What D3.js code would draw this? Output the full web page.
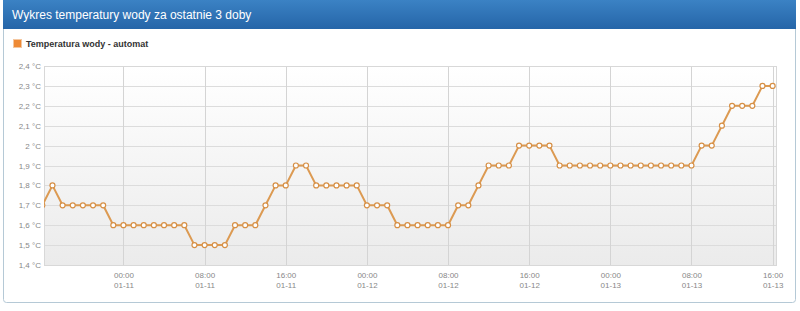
<!DOCTYPE html>
<html>
<head>
<meta charset="utf-8">
<script src="https://cdn.jsdelivr.net/npm/d3@7"></script>
<style>
  body { margin: 0; background: #fff; font-family: Arial, "Liberation Sans", sans-serif; }
</style>
</head>
<body>
<div id="wrapper"></div>
<script>
const title = "Wykres temperatury wody za ostatnie 3 doby";
const seriesName = "Temperatura wody - automat";

// hourly readings, "YYYY-MM-DD HH:MM"
const times = [
  "2019-01-10 16:00", "2019-01-10 17:00", "2019-01-10 18:00", "2019-01-10 19:00",
  "2019-01-10 20:00", "2019-01-10 21:00", "2019-01-10 22:00", "2019-01-10 23:00",
  "2019-01-11 00:00", "2019-01-11 01:00", "2019-01-11 02:00", "2019-01-11 03:00",
  "2019-01-11 04:00", "2019-01-11 05:00", "2019-01-11 06:00", "2019-01-11 07:00",
  "2019-01-11 08:00", "2019-01-11 09:00", "2019-01-11 10:00", "2019-01-11 11:00",
  "2019-01-11 12:00", "2019-01-11 13:00", "2019-01-11 14:00", "2019-01-11 15:00",
  "2019-01-11 16:00", "2019-01-11 17:00", "2019-01-11 18:00", "2019-01-11 19:00",
  "2019-01-11 20:00", "2019-01-11 21:00", "2019-01-11 22:00", "2019-01-11 23:00",
  "2019-01-12 00:00", "2019-01-12 01:00", "2019-01-12 02:00", "2019-01-12 03:00",
  "2019-01-12 04:00", "2019-01-12 05:00", "2019-01-12 06:00", "2019-01-12 07:00",
  "2019-01-12 08:00", "2019-01-12 09:00", "2019-01-12 10:00", "2019-01-12 11:00",
  "2019-01-12 12:00", "2019-01-12 13:00", "2019-01-12 14:00", "2019-01-12 15:00",
  "2019-01-12 16:00", "2019-01-12 17:00", "2019-01-12 18:00", "2019-01-12 19:00",
  "2019-01-12 20:00", "2019-01-12 21:00", "2019-01-12 22:00", "2019-01-12 23:00",
  "2019-01-13 00:00", "2019-01-13 01:00", "2019-01-13 02:00", "2019-01-13 03:00",
  "2019-01-13 04:00", "2019-01-13 05:00", "2019-01-13 06:00", "2019-01-13 07:00",
  "2019-01-13 08:00", "2019-01-13 09:00", "2019-01-13 10:00", "2019-01-13 11:00",
  "2019-01-13 12:00", "2019-01-13 13:00", "2019-01-13 14:00", "2019-01-13 15:00",
  "2019-01-13 16:00"
];

const temps = [
  1.7, 1.8, 1.7, 1.7, 1.7, 1.7, 1.7, 1.6,
  1.6, 1.6, 1.6, 1.6, 1.6, 1.6, 1.6, 1.5,
  1.5, 1.5, 1.5, 1.6, 1.6, 1.6, 1.7, 1.8,
  1.8, 1.9, 1.9, 1.8, 1.8, 1.8, 1.8, 1.8,
  1.7, 1.7, 1.7, 1.6, 1.6, 1.6, 1.6, 1.6,
  1.6, 1.7, 1.7, 1.8, 1.9, 1.9, 1.9, 2.0,
  2.0, 2.0, 2.0, 1.9, 1.9, 1.9, 1.9, 1.9,
  1.9, 1.9, 1.9, 1.9, 1.9, 1.9, 1.9, 1.9,
  1.9, 2.0, 2.0, 2.1, 2.2, 2.2, 2.2, 2.3,
  2.3
];

const yTicks = [1.4, 1.5, 1.6, 1.7, 1.8, 1.9, 2.0, 2.1, 2.2, 2.3, 2.4];
const xTickTimes = [
  "2019-01-11 00:00", "2019-01-11 08:00", "2019-01-11 16:00",
  "2019-01-12 00:00", "2019-01-12 08:00", "2019-01-12 16:00",
  "2019-01-13 00:00", "2019-01-13 08:00", "2019-01-13 16:00"
];
const xDomain = ["2019-01-10 16:10", "2019-01-13 16:20"];

const parse = d3.timeParse("%Y-%m-%d %H:%M");
const data = times.map((t, i) => ({ date: parse(t), value: temps[i] }));

const width = 800, height = 311;
const plot = { left: 44, right: 776, top: 66, bottom: 265 };

const svg = d3.select("#wrapper").append("svg")
  .attr("width", width).attr("height", height);

const defs = svg.append("defs");
const headGrad = defs.append("linearGradient").attr("id", "head")
  .attr("x1", 0).attr("y1", 0).attr("x2", 0).attr("y2", 1);
headGrad.append("stop").attr("offset", "0%").attr("stop-color", "#3b82c4");
headGrad.append("stop").attr("offset", "100%").attr("stop-color", "#2565a8");

const bgGrad = defs.append("linearGradient").attr("id", "plotbg")
  .attr("x1", 0).attr("y1", 0).attr("x2", 0).attr("y2", 1);
bgGrad.append("stop").attr("offset", "0%").attr("stop-color", "#ffffff");
bgGrad.append("stop").attr("offset", "100%").attr("stop-color", "#ebebeb");

defs.append("clipPath").attr("id", "clip").append("rect")
  .attr("x", plot.left).attr("y", plot.top - 5)
  .attr("width", plot.right - plot.left + 5).attr("height", plot.bottom - plot.top + 10);

// panel
svg.append("rect")
  .attr("x", 3.5).attr("y", 0.5).attr("width", 792).attr("height", 302)
  .attr("rx", 3).attr("fill", "#fff").attr("stroke", "#b5c9d6");
svg.append("rect")
  .attr("x", 3).attr("y", 0).attr("width", 793).attr("height", 29)
  .attr("fill", "url(#head)");
svg.append("text")
  .attr("x", 12).attr("y", 19)
  .attr("fill", "#fff").attr("font-size", 12)
  .text(title);

// legend
svg.append("rect")
  .attr("x", 13.5).attr("y", 39.5).attr("width", 8).attr("height", 8)
  .attr("fill", "#ee8a35").attr("stroke", "#f4c7a0");
svg.append("text")
  .attr("x", 26).attr("y", 47)
  .attr("font-size", 9).attr("font-weight", "bold").attr("fill", "#333")
  .text(seriesName);

// scales
const x = d3.scaleTime()
  .domain(xDomain.map(parse))
  .range([plot.left, plot.right]);
const y = d3.scaleLinear()
  .domain([1.4, 2.4])
  .range([plot.bottom, plot.top]);

svg.append("rect")
  .attr("x", plot.left).attr("y", plot.top)
  .attr("width", plot.right - plot.left).attr("height", plot.bottom - plot.top)
  .attr("fill", "url(#plotbg)");

// grid
const fmtY = d => String(+d.toFixed(1)).replace(".", ",") + " \u00B0C";
svg.append("g")
  .attr("transform", `translate(${plot.left},0)`)
  .call(d3.axisLeft(y).tickValues(yTicks).tickSize(-(plot.right - plot.left)).tickFormat(fmtY))
  .call(g => g.select(".domain").remove())
  .call(g => g.selectAll("line").attr("stroke", "#dcdcdc").attr("shape-rendering", "crispEdges"))
  .call(g => g.selectAll("text").attr("x", -3).attr("fill", "#888")
    .attr("font-size", 8).attr("font-family", "Arial, sans-serif"));

const fmtTime = d3.timeFormat("%H:%M");
const fmtDay = d3.timeFormat("%m-%d");
const xAxis = svg.append("g")
  .attr("transform", `translate(0,${plot.bottom})`)
  .call(d3.axisBottom(x).tickValues(xTickTimes.map(parse)).tickSize(-(plot.bottom - plot.top)).tickFormat(""))
  .call(g => g.select(".domain").remove())
  .call(g => g.selectAll("line").attr("stroke", "#d4d4d4").attr("shape-rendering", "crispEdges"));
xAxis.selectAll(".tick").each(function (d) {
  const t = d3.select(this).select("text")
    .attr("y", 0).attr("dy", null)
    .attr("fill", "#888").attr("font-size", 8).attr("font-family", "Arial, sans-serif");
  t.append("tspan").attr("x", 0).attr("y", 13).text(fmtTime(d));
  t.append("tspan").attr("x", 0).attr("y", 23).text(fmtDay(d));
});

// plot border
svg.append("rect")
  .attr("x", plot.left + 0.5).attr("y", plot.top + 0.5)
  .attr("width", plot.right - plot.left).attr("height", plot.bottom - plot.top)
  .attr("fill", "none").attr("stroke", "#d8d8d8");

// series
const lineGen = d3.line()
  .x(d => x(d.date))
  .y(d => y(d.value));

const series = svg.append("g").attr("clip-path", "url(#clip)");
series.append("path")
  .attr("d", lineGen(data))
  .attr("fill", "none")
  .attr("stroke", "#dc9a52")
  .attr("stroke-width", 2)
  .attr("stroke-linejoin", "round");

series.selectAll("circle")
  .data(data)
  .enter().append("circle")
  .attr("cx", d => x(d.date))
  .attr("cy", d => y(d.value))
  .attr("r", 2.5)
  .attr("fill", "#fff")
  .attr("stroke", "#d68f45")
  .attr("stroke-width", 1.2);
</script>
</body>
</html>
